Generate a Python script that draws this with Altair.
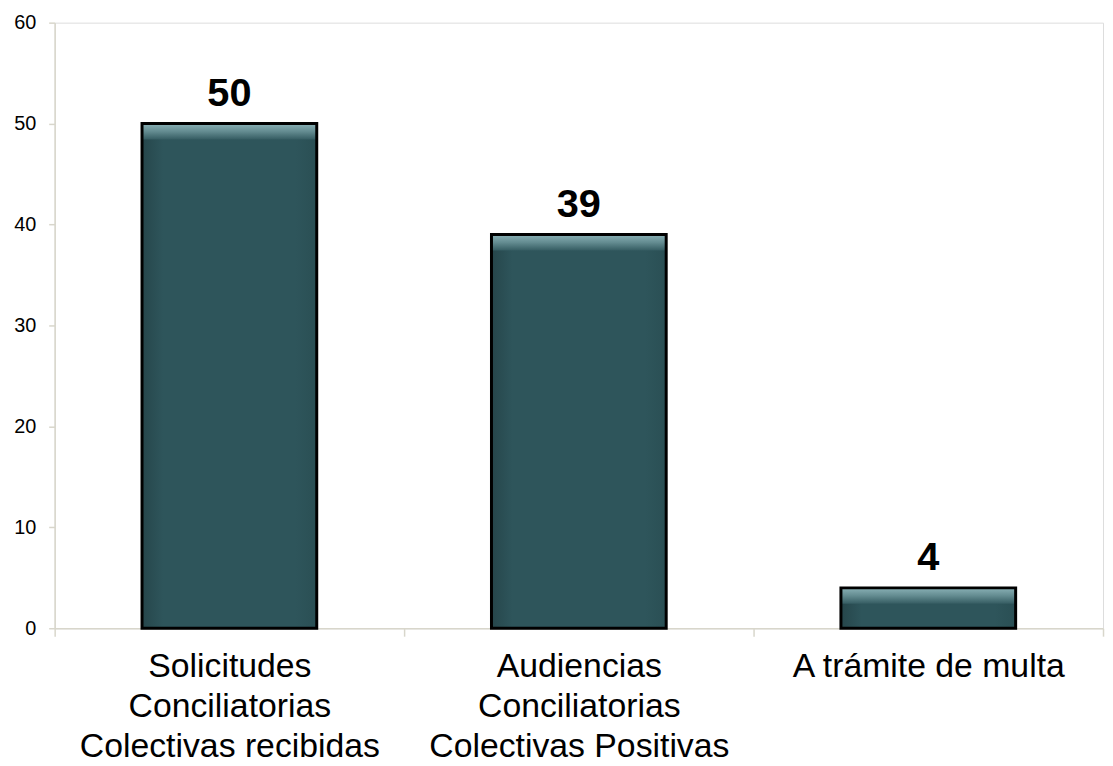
import altair as alt
import pandas as pd

categories = [
    ["Solicitudes", "Conciliatorias", "Colectivas recibidas"],
    ["Audiencias", "Conciliatorias", "Colectivas Positivas"],
    ["A trámite de multa"],
]
keys = ["Solicitudes Conciliatorias Colectivas recibidas",
        "Audiencias Conciliatorias Colectivas Positivas",
        "A trámite de multa"]
values = [50, 39, 4]

df = pd.DataFrame({"cat": keys, "value": values})

FONT = "Liberation Sans, Arial, Helvetica, sans-serif"
AXIS_COLOR = "#d8d6cb"


def js_list(items):
    return "[" + ", ".join("'" + s + "'" for s in items) + "]"


label_expr = (
    "datum.value == '" + keys[0] + "' ? " + js_list(categories[0]) +
    " : datum.value == '" + keys[1] + "' ? " + js_list(categories[1]) +
    " : datum.value == '" + keys[2] + "' ? " + js_list(categories[2]) +
    " : ''"
)

x = alt.X(
    "cat:N",
    sort=keys,
    title=None,
    scale=alt.Scale(paddingInner=0, paddingOuter=0),
    axis=alt.Axis(
        labelAngle=0,
        labelExpr=label_expr,
        labelLimit=0,
        labelFont=FONT,
        labelFontSize=34,
        labelLineHeight=40,
        labelColor="#000000",
        labelPadding=14,
        labelBaseline="top",
        tickBand="extent",
        tickSize=8,
        tickColor=AXIS_COLOR,
        domainColor=AXIS_COLOR,
        domainWidth=1.5,
        tickWidth=1.5,
    ),
)
y = alt.Y(
    "value:Q",
    title=None,
    scale=alt.Scale(domain=[0, 60]),
    axis=alt.Axis(
        values=[0, 10, 20, 30, 40, 50, 60],
        grid=False,
        labelFont=FONT,
        labelFontSize=20,
        labelColor="#000000",
        labelPadding=13,
        tickSize=6,
        tickColor=AXIS_COLOR,
        domainColor=AXIS_COLOR,
        domainWidth=1.5,
        tickWidth=1.5,
    ),
)

base = alt.Chart(df)
BW = alt.RelativeBandSize(0.5)

body = base.mark_bar(
    width=BW,
    fill={
        "gradient": "linear",
        "x1": 0, "y1": 0, "x2": 1, "y2": 0,
        "stops": [
            {"offset": 0.0, "color": "#26464b"},
            {"offset": 0.12, "color": "#2e555b"},
            {"offset": 0.88, "color": "#2e555b"},
            {"offset": 1.0, "color": "#2a4f54"},
        ],
    },
).encode(x=x, y=y)

highlight = base.mark_bar(
    width=BW,
    y2Offset=16,
    fill={
        "gradient": "linear",
        "x1": 0, "y1": 0, "x2": 0, "y2": 1,
        "stops": [
            {"offset": 0.0, "color": "#8ab1b6"},
            {"offset": 0.5, "color": "#638b90"},
            {"offset": 1.0, "color": "#355c62"},
        ],
    },
).encode(x=x, y=alt.Y("value:Q"), y2=alt.Y2("value"))

outline = base.mark_bar(
    width=BW, fillOpacity=0, stroke="#000000", strokeWidth=3
).encode(x=x, y=y)

labels = base.mark_text(
    font=FONT, fontSize=40, fontWeight="bold", baseline="alphabetic",
    dy=-18, color="#000000",
).encode(x=x, y=y, text="value:Q")

chart = (
    alt.layer(body, highlight, outline, labels)
    .properties(
        width=1056,
        height=610,
        padding={"left": 47, "top": 12, "right": 2, "bottom": 136},
        autosize=alt.AutoSizeParams(type="none"),
    )
    .configure_view(stroke=None)
    .configure(background="#ffffff")
)

chart.save("out.html", embed_options={"renderer": "svg", "actions": False})
